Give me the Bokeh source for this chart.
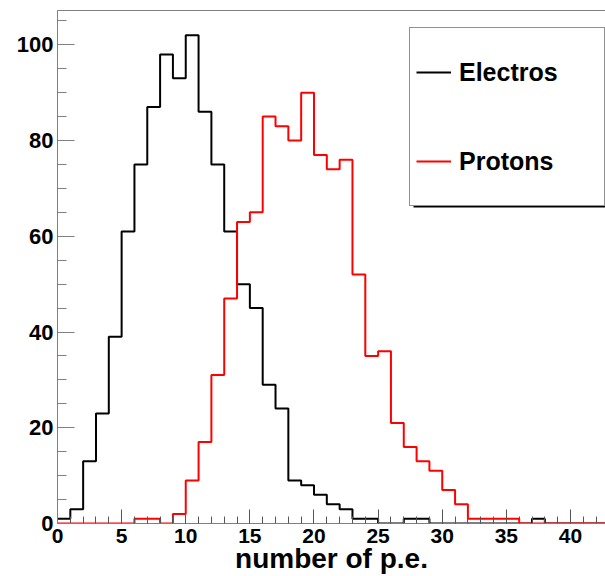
from bokeh.plotting import figure
from bokeh.models import (Range1d, SingleIntervalTicker, LinearAxis, Legend, LegendItem,
                          BoxAnnotation, FixedTicker)
from bokeh.embed import file_html
from bokeh.resources import INLINE

# ---- data (bins of width 1, lower edges 0..42) ----
bin_edges = list(range(0, 44))
electrons = [1, 3, 13, 23, 39, 61, 75, 87, 98, 93, 102, 86, 75, 61, 50, 45, 29, 24, 9, 8,
             6, 4, 3, 1, 1, 0, 0, 1, 1, 0, 0, 0, 0, 0, 0, 0, 0, 1, 0, 0, 0, 0, 0]
protons = [0, 0, 0, 0, 0, 0, 1, 1, 0, 2, 9, 17, 31, 47, 63, 65, 85, 83, 80, 90,
           77, 74, 76, 52, 35, 36, 21, 16, 13, 11, 7, 4, 1, 1, 1, 1, 0, 0, 0, 0, 0, 0, 0]
series_names = ["Electros", "Protons"]
series_colors = ["#000000", "#ff0000"]
x_ticks = [0, 5, 10, 15, 20, 25, 30, 35, 40]
y_ticks = [0, 20, 40, 60, 80, 100]
x_title = "number of p.e."

FONT = "Liberation Sans"
AX_COL = "#808080"
TICK_COL = "#555555"

p = figure(width=605, height=576, output_backend="svg", toolbar_location=None,
           x_range=Range1d(0, 42.73), y_range=Range1d(0, 107.17),
           x_axis_type=None, y_axis_type=None,
           min_border_left=57, min_border_right=0, min_border_top=10, min_border_bottom=53)
p.outline_line_color = None
p.background_fill_color = "white"
p.border_fill_color = "white"
p.xgrid.visible = False
p.ygrid.visible = False

xaxis = LinearAxis(ticker=SingleIntervalTicker(interval=5, num_minor_ticks=5))
xaxis.axis_line_color = AX_COL
xaxis.major_tick_line_color = TICK_COL
xaxis.minor_tick_line_color = TICK_COL
xaxis.major_tick_in = 14
xaxis.major_tick_out = 0
xaxis.minor_tick_in = 7
xaxis.minor_tick_out = 0
xaxis.major_label_text_font = FONT
xaxis.major_label_text_font_style = "bold"
xaxis.major_label_text_font_size = "21px"
xaxis.major_label_text_color = "black"
xaxis.major_label_standoff = 5
xaxis.axis_label = x_title
xaxis.axis_label_text_font = FONT
xaxis.axis_label_text_font_style = "bold"
xaxis.axis_label_text_font_size = "28px"
xaxis.axis_label_text_color = "black"
xaxis.axis_label_standoff = -3
p.add_layout(xaxis, "below")

yaxis = LinearAxis(ticker=SingleIntervalTicker(interval=20, num_minor_ticks=4))
yaxis.axis_line_color = AX_COL
yaxis.major_tick_line_color = AX_COL
yaxis.minor_tick_line_color = AX_COL
yaxis.major_tick_in = 17
yaxis.major_tick_out = 0
yaxis.minor_tick_in = 9
yaxis.minor_tick_out = 0
yaxis.major_label_text_font = FONT
yaxis.major_label_text_font_style = "bold"
yaxis.major_label_text_font_size = "22px"
yaxis.major_label_text_color = "black"
yaxis.major_label_standoff = 4
p.add_layout(yaxis, "left")

top_axis = LinearAxis(ticker=FixedTicker(ticks=[]))
top_axis.axis_line_color = AX_COL
top_axis.major_tick_in = 0
top_axis.major_tick_out = 0
top_axis.minor_tick_in = 0
top_axis.minor_tick_out = 0
top_axis.major_label_text_font_size = "0px"
p.add_layout(top_axis, "above")

renderers = []
for counts, color in zip([electrons, protons], series_colors):
    r = p.step(x=bin_edges, y=counts + [0], mode="after", line_color=color, line_width=2)
    renderers.append(r)

# legend shadow
shadow = BoxAnnotation(left=(413 - 57) / 12.825, right=44,
                       top=(522.7 - 31) / 4.784, bottom=(522.7 - 207) / 4.784,
                       fill_color="black", fill_alpha=1.0, line_color=None)
p.add_layout(shadow)

legend = Legend(items=[LegendItem(label=n, renderers=[r]) for n, r in zip(series_names, renderers)],
                location=(352, 317))
legend.border_line_color = "#222222"
legend.border_line_width = 1
legend.background_fill_color = "white"
legend.background_fill_alpha = 1.0
legend.padding = 6
legend.margin = 0
legend.spacing = 13
legend.glyph_width = 35
legend.glyph_height = 76
legend.label_height = 76
legend.label_width = 139
legend.label_standoff = 8
legend.label_text_font = FONT
legend.label_text_font_style = "bold"
legend.label_text_font_size = "25px"
legend.label_text_color = "black"
p.add_layout(legend)

open("out.html", "w").write(file_html(p, INLINE))
